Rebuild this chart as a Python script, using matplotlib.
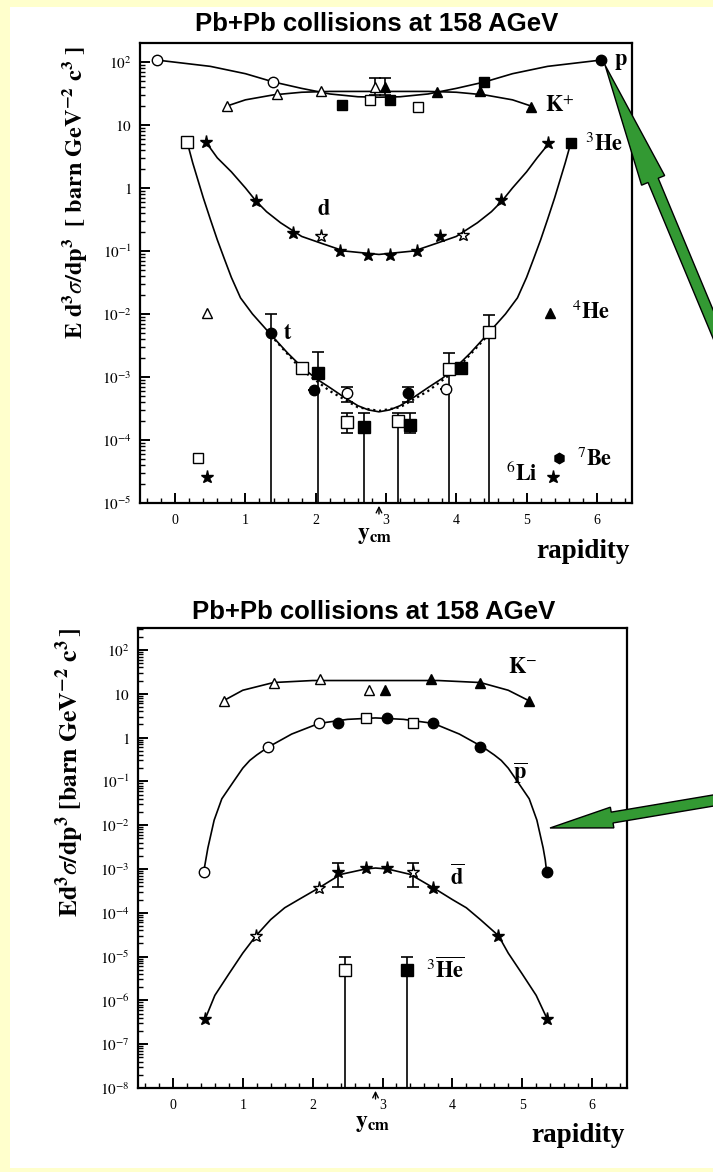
import matplotlib
matplotlib.use('Agg')
import matplotlib.pyplot as plt
from matplotlib.patches import Rectangle, Polygon
from matplotlib.ticker import FixedLocator, FixedFormatter, MultipleLocator, LogLocator, NullFormatter

plt.rcParams['mathtext.fontset'] = 'stix'
plt.rcParams['font.family'] = ['Liberation Serif', 'DejaVu Serif']

W, H = 713, 1172

# ---------------- upper panel: p, K+, d, t, 3He, 4He, 6Li, 7Be ----------------
p_curve_x = [-0.26, 0.5, 1.0, 1.4, 1.8, 2.2, 2.6, 2.9, 3.2, 3.6, 4.0, 4.4, 4.8, 5.3, 6.06]
p_curve_y = [107, 85, 65, 48, 38, 31, 28, 27.5, 28, 31, 38, 48, 65, 85, 107]
p_open_circ_x = [-0.26, 1.39]
p_open_circ_y = [107, 48]
p_open_sq_x = [2.77, 3.46]
p_open_sq_y = [25, 19.5]
p_full_sq_x = [2.37, 3.06, 4.39]
p_full_sq_y = [21, 25, 48]
p_full_circ_x = [6.06]
p_full_circ_y = [107]

kp_curve_x = [0.74, 1.0, 1.4, 1.8, 2.2, 2.9, 3.6, 4.0, 4.4, 4.8, 5.06]
kp_curve_y = [20, 25, 30, 33, 34, 34, 34, 33, 30, 25, 20]
kp_open_x = [0.74, 1.45, 2.08, 2.84]
kp_open_y = [20, 31, 35, 40]
kp_full_x = [2.99, 3.73, 4.34, 5.06]
kp_full_y = [40, 33, 34, 19.5]
kp_err_x = [2.84, 2.99]
kp_err_y = [40, 40]
kp_err_lo = [30, 30]
kp_err_hi = [56, 56]

d_curve_x = [0.44, 0.6, 0.8, 1.0, 1.15, 1.3, 1.5, 1.8, 2.1, 2.4, 2.9, 3.4, 3.7, 4.0, 4.3, 4.5,
             4.65, 4.8, 5.0, 5.15, 5.33]
d_curve_y = [5.3, 3.0, 1.8, 1.0, 0.62, 0.42, 0.28, 0.17, 0.13, 0.1, 0.088, 0.1, 0.13, 0.17, 0.28,
             0.42, 0.62, 1.0, 1.8, 3.0, 5.3]
d_full_x = [0.44, 1.15, 1.68, 2.34, 2.75, 3.06, 3.44, 3.77, 4.63, 5.31]
d_full_y = [5.3, 0.62, 0.19, 0.098, 0.087, 0.087, 0.098, 0.17, 0.64, 5.2]
d_open_x = [2.08, 4.1]
d_open_y = [0.17, 0.18]

he3_curve_x = [0.17, 0.25, 0.4, 0.5, 0.6, 0.7, 0.8, 0.93, 1.1, 1.34, 1.6, 1.8, 2.0, 2.2, 2.4, 2.6,
               2.75, 2.9, 3.05, 3.2, 3.4, 3.6, 3.8, 4.0, 4.2, 4.46, 4.7, 4.87, 5.0, 5.1, 5.2, 5.3,
               5.4, 5.55, 5.63]
he3_curve_y = [5.4, 2.5, 0.7, 0.32, 0.15, 0.075, 0.038, 0.018, 0.01, 5e-3, 2.4e-3, 1.45e-3, 9.5e-4,
               6.8e-4, 4.8e-4, 3.5e-4, 3e-4, 2.8e-4, 3e-4, 3.5e-4, 4.8e-4, 6.8e-4, 9.5e-4, 1.45e-3,
               2.4e-3, 5e-3, 0.01, 0.018, 0.038, 0.075, 0.15, 0.32, 0.7, 2.5, 5.2]
he3_open_x = [0.17]
he3_open_y = [5.4]
he3_full_x = [5.63]
he3_full_y = [5.2]

t_curve_x = [1.36, 1.8, 2.2, 2.6, 2.9, 3.2, 3.6, 4.0, 4.45]
t_curve_y = [4.6e-3, 1.3e-3, 6e-4, 3.3e-4, 2.9e-4, 3.3e-4, 6e-4, 1.3e-3, 4.6e-3]

# mid-rapidity light nuclei with error bars (lower bound 0 = consistent with zero)
mid_open_sq_x = [1.80, 2.45, 3.17, 3.89, 4.46]
mid_open_sq_y = [1.4e-3, 1.9e-4, 2.0e-4, 1.35e-3, 5.1e-3]
mid_open_sq_lo = [1.4e-3, 1.3e-4, 0, 0, 0]
mid_open_sq_hi = [1.4e-3, 2.7e-4, 2.7e-4, 2.4e-3, 9.7e-3]
mid_full_sq_x = [2.03, 2.68, 3.34, 4.06]
mid_full_sq_y = [1.15e-3, 1.6e-4, 1.7e-4, 1.4e-3]
mid_full_sq_lo = [0, 0, 1.3e-4, 1.4e-3]
mid_full_sq_hi = [2.5e-3, 2.7e-4, 2.7e-4, 1.4e-3]
mid_full_circ_x = [1.36, 1.97, 3.31]
mid_full_circ_y = [5e-3, 6.3e-4, 5.6e-4]
mid_full_circ_lo = [0, 6.3e-4, 4.0e-4]
mid_full_circ_hi = [1e-2, 6.3e-4, 6.9e-4]
mid_open_circ_x = [2.45, 3.86]
mid_open_circ_y = [5.6e-4, 6.5e-4]
mid_open_circ_lo = [4.0e-4, 6.5e-4]
mid_open_circ_hi = [7.0e-4, 6.5e-4]

he4_x = [0.46, 5.34]
he4_y = [0.0104, 0.0104]
be7_x = [0.33, 5.46]
be7_y = [5.1e-5, 5.1e-5]
li6_x = [0.46, 5.37]
li6_y = [2.6e-5, 2.6e-5]

# ---------------- lower panel: K-, anti-p, anti-d, anti-3He ----------------
km_curve_x = [0.73, 1.0, 1.44, 2.0, 2.9, 3.8, 4.4, 4.8, 5.09]
km_curve_y = [7, 12, 18, 20, 20, 20, 18, 12, 7]
km_open_x = [0.73, 1.44, 2.11, 2.8]
km_open_y = [7, 18, 22, 12]
km_full_x = [3.04, 3.69, 4.4, 5.09]
km_full_y = [12, 22, 18, 7]

pb_curve_x = [0.44, 0.47, 0.5, 0.59, 0.7, 0.87, 1.0, 1.1, 1.2, 1.36, 1.7, 2.09, 2.5, 2.9,
              3.3, 3.73, 4.1, 4.44, 4.6, 4.7, 4.8, 4.93, 5.1, 5.21, 5.3, 5.33, 5.35]
pb_curve_y = [8.5e-4, 1.6e-3, 3e-3, 0.013, 0.04, 0.1, 0.2, 0.3, 0.4, 0.6, 1.2, 2.1, 2.6, 2.8,
              2.6, 2.1, 1.2, 0.6, 0.4, 0.3, 0.2, 0.1, 0.04, 0.013, 3e-3, 1.6e-3, 8.5e-4]
pb_open_circ_x = [0.44, 1.36, 2.09]
pb_open_circ_y = [8.5e-4, 0.6, 2.1]
pb_open_sq_x = [2.76, 3.43]
pb_open_sq_y = [2.8, 2.1]
pb_full_circ_x = [2.37, 3.07, 3.73, 4.4, 5.35]
pb_full_circ_y = [2.1, 2.8, 2.1, 0.6, 8.5e-4]

db_curve_x = [0.46, 0.6, 0.8, 1.0, 1.19, 1.4, 1.6, 1.8, 2.09, 2.4, 2.76, 2.9, 3.07, 3.4, 3.73,
              4.0, 4.2, 4.4, 4.66, 4.8, 5.0, 5.2, 5.36]
db_curve_y = [3.7e-7, 1.3e-6, 4e-6, 1.2e-5, 3e-5, 7e-5, 1.3e-4, 2e-4, 3.7e-4, 7.5e-4, 1.0e-3,
              1.05e-3, 1.0e-3, 7.5e-4, 3.7e-4, 2e-4, 1.3e-4, 7e-5, 3e-5, 1.2e-5, 4e-6, 1.3e-6, 3.7e-7]
db_open_x = [1.19, 2.09, 3.44]
db_open_y = [3e-5, 3.7e-4, 8.5e-4]
db_full_x = [0.46, 2.37, 2.76, 3.07, 3.73, 4.66, 5.36]
db_full_y = [3.7e-7, 8.5e-4, 1.05e-3, 1.05e-3, 3.7e-4, 3e-5, 3.7e-7]
db_err_x = [2.37, 3.44]
db_err_y = [8.5e-4, 8.5e-4]
db_err_lo = [3.9e-4, 3.9e-4]
db_err_hi = [1.4e-3, 1.4e-3]

he3b_x = [2.47, 3.35]
he3b_y = [4.9e-6, 4.9e-6]
he3b_lo = [0, 0]
he3b_hi = [9.8e-6, 9.8e-6]

top_exps = [-5, -4, -3, -2, -1, 0, 1, 2]
bot_exps = [-8, -7, -6, -5, -4, -3, -2, -1, 0, 1, 2]


def tick_text(e):
    if e == 0:
        return '$1$'
    if e == 1:
        return '$10$'
    return '$10^{%d}$' % e


def px(x, y):
    return x / W, 1 - y / H


fig = plt.figure(figsize=(W / 100, H / 100), dpi=100, facecolor='#FFFFCC')
fig.patches.append(Rectangle((10 / W, 4 / H), 1, (1168 - 7) / H, transform=fig.transFigure,
                             facecolor='white', edgecolor='none', zorder=-5))

ax1 = fig.add_axes([140 / W, 1 - 503 / H, 492 / W, 460 / H])
ax2 = fig.add_axes([138 / W, 1 - 1088 / H, 489 / W, 460 / H])


def style(ax, lo, hi, exps):
    ax.set_yscale('log')
    ax.set_xlim(-0.5, 6.5)
    ax.set_ylim(10.0 ** lo, 10.0 ** hi)
    ax.set_facecolor('white')
    ax.xaxis.set_major_locator(MultipleLocator(1))
    ax.xaxis.set_minor_locator(MultipleLocator(0.2))
    ax.yaxis.set_major_locator(FixedLocator([10.0 ** e for e in exps]))
    ax.yaxis.set_major_formatter(FixedFormatter([tick_text(e) for e in exps]))
    ax.yaxis.set_minor_locator(LogLocator(subs=range(2, 10), numticks=30))
    ax.yaxis.set_minor_formatter(NullFormatter())
    ax.tick_params(which='both', direction='in', top=False, right=False, colors='k')
    ax.tick_params(which='major', length=7, width=1.4, labelsize=11, pad=6)
    ax.tick_params(which='minor', length=3.5, width=1)
    ax.tick_params(axis='x', which='major', labelsize=10, pad=8)
    for s in ax.spines.values():
        s.set_linewidth(1.6)
    # y_cm marker under the axis
    ax.annotate('', xy=(2.9, 0.0), xycoords=('data', 'axes fraction'),
                xytext=(2.9, -0.03), textcoords=('data', 'axes fraction'),
                arrowprops=dict(arrowstyle='->', lw=1.0, color='k'), annotation_clip=False)


def pts(ax, x, y, marker, filled, ms=7.5):
    ax.plot(x, y, linestyle='none', marker=marker, ms=ms, mec='k', mew=1.0,
            mfc='k' if filled else 'white', zorder=4)


def bars(ax, x, y, lo, hi):
    yerr = [[a - b for a, b in zip(y, lo)], [b - a for a, b in zip(y, hi)]]
    ax.errorbar(x, y, yerr=yerr, fmt='none', ecolor='k', elinewidth=1.2, capsize=4, capthick=1.2, zorder=3)


style(ax1, -5, 2.3, top_exps)
style(ax2, -8, 2.5, bot_exps)

# upper panel
line = dict(color='k', lw=1.2, zorder=2)
ax1.plot(p_curve_x, p_curve_y, **line)
ax1.plot(kp_curve_x, kp_curve_y, **line)
ax1.plot(d_curve_x, d_curve_y, **line)
ax1.plot(he3_curve_x, he3_curve_y, **line)
ax1.plot(t_curve_x, t_curve_y, color='k', lw=1.6, ls=':', zorder=2)

bars(ax1, kp_err_x, kp_err_y, kp_err_lo, kp_err_hi)
pts(ax1, p_open_circ_x, p_open_circ_y, 'o', False)
pts(ax1, p_open_sq_x, p_open_sq_y, 's', False)
pts(ax1, p_full_sq_x, p_full_sq_y, 's', True)
pts(ax1, p_full_circ_x, p_full_circ_y, 'o', True)
pts(ax1, kp_open_x, kp_open_y, '^', False)
pts(ax1, kp_full_x, kp_full_y, '^', True)
pts(ax1, d_full_x, d_full_y, '*', True, 9.5)
pts(ax1, d_open_x, d_open_y, '*', False, 9.5)
pts(ax1, he3_open_x, he3_open_y, 's', False, 8.5)
pts(ax1, he3_full_x, he3_full_y, 's', True, 7.5)

bars(ax1, mid_open_sq_x, mid_open_sq_y, mid_open_sq_lo, mid_open_sq_hi)
bars(ax1, mid_full_sq_x, mid_full_sq_y, mid_full_sq_lo, mid_full_sq_hi)
bars(ax1, mid_full_circ_x, mid_full_circ_y, mid_full_circ_lo, mid_full_circ_hi)
bars(ax1, mid_open_circ_x, mid_open_circ_y, mid_open_circ_lo, mid_open_circ_hi)
pts(ax1, mid_open_sq_x, mid_open_sq_y, 's', False, 8.5)
pts(ax1, mid_full_sq_x, mid_full_sq_y, 's', True, 8.5)
pts(ax1, mid_full_circ_x, mid_full_circ_y, 'o', True)
pts(ax1, mid_open_circ_x, mid_open_circ_y, 'o', False)

pts(ax1, he4_x[:1], he4_y[:1], '^', False)
pts(ax1, he4_x[1:], he4_y[1:], '^', True)
pts(ax1, be7_x[:1], be7_y[:1], 's', False, 7)
pts(ax1, be7_x[1:], be7_y[1:], 'h', True, 7.5)
pts(ax1, li6_x, li6_y, '*', True, 9.5)

lab = dict(fontsize=16, ha='center', va='center')
ax1.text(6.34, 100, r'$\mathbf{p}$', **lab)
ax1.text(5.47, 19.5, r'$\mathbf{K}^{+}$', **lab)
ax1.text(6.1, 4.8, r'$^{3}\mathbf{He}$', **lab)
ax1.text(2.11, 0.45, r'$\mathbf{d}$', **lab)
ax1.text(1.6, 4.7e-3, r'$\mathbf{t}$', **lab)
ax1.text(5.91, 0.0105, r'$^{4}\mathbf{He}$', **lab)
ax1.text(5.97, 4.8e-5, r'$^{7}\mathbf{Be}$', **lab)
ax1.text(4.94, 2.8e-5, r'$^{6}\mathbf{Li}$', **lab)

# lower panel
ax2.plot(km_curve_x, km_curve_y, **line)
ax2.plot(pb_curve_x, pb_curve_y, **line)
ax2.plot(db_curve_x, db_curve_y, **line)

pts(ax2, km_open_x, km_open_y, '^', False)
pts(ax2, km_full_x, km_full_y, '^', True)
pts(ax2, pb_open_circ_x, pb_open_circ_y, 'o', False)
pts(ax2, pb_open_sq_x, pb_open_sq_y, 's', False)
pts(ax2, pb_full_circ_x, pb_full_circ_y, 'o', True)
bars(ax2, db_err_x, db_err_y, db_err_lo, db_err_hi)
pts(ax2, db_open_x, db_open_y, '*', False, 9.5)
pts(ax2, db_full_x, db_full_y, '*', True, 9.5)
bars(ax2, he3b_x, he3b_y, he3b_lo, he3b_hi)
pts(ax2, he3b_x[:1], he3b_y[:1], 's', False, 8.5)
pts(ax2, he3b_x[1:], he3b_y[1:], 's', True, 8.5)

ax2.text(5.0, 39, r'$\mathbf{K}^{-}$', **lab)
ax2.text(4.97, 0.155, r'$\overline{\mathbf{p}}$', **lab)
ax2.text(4.07, 6.3e-4, r'$\overline{\mathbf{d}}$', **lab)
ax2.text(3.9, 4.9e-6, r'$^{3}\overline{\mathbf{He}}$', **lab)

# titles, axis labels
title_kw = dict(family=['Liberation Sans', 'DejaVu Sans'], fontweight='bold', fontsize=18.5,
                ha='center', va='center')
fig.text(*px(377, 24), 'Pb+Pb collisions at 158 AGeV', **title_kw)
fig.text(*px(374, 612), 'Pb+Pb collisions at 158 AGeV', **title_kw)

fig.text(*px(75, 192), r'$\mathbf{E\ d^{3}}\sigma\mathbf{/dp^{3}\ \ [\ barn\ GeV^{-2}\ c^{3}\ ]}$',
         rotation=90, fontsize=17.5, ha='center', va='center')
fig.text(*px(70, 772), r'$\mathbf{Ed^{3}}\sigma\mathbf{/dp^{3}\ [barn\ GeV^{-2}\ c^{3}\,]}$',
         rotation=90, fontsize=18.5, ha='center', va='center')

fig.text(*px(583, 552), 'rapidity', fontsize=19.5, fontweight='bold', ha='center', va='center')
fig.text(*px(578, 1135), 'rapidity', fontsize=19.5, fontweight='bold', ha='center', va='center')
fig.text(*px(374, 536), r'$\mathbf{y}_{\mathbf{cm}}$', fontsize=17, ha='center', va='center')
fig.text(*px(372, 1124), r'$\mathbf{y}_{\mathbf{cm}}$', fontsize=17, ha='center', va='center')


# green pointer arrows
def arrow(tip, ux, uy, head_len, head_half, shaft_half, tail):
    nx, ny = uy, -ux
    bx, by = tip[0] + head_len * ux, tip[1] + head_len * uy
    pts_px = [tip,
              (bx + head_half * nx, by + head_half * ny),
              (bx + shaft_half * nx, by + shaft_half * ny),
              (bx + shaft_half * nx + tail * ux, by + shaft_half * ny + tail * uy),
              (bx - shaft_half * nx + tail * ux, by - shaft_half * ny + tail * uy),
              (bx - shaft_half * nx, by - shaft_half * ny),
              (bx - head_half * nx, by - head_half * ny)]
    fig.patches.append(Polygon([px(a, b) for a, b in pts_px], closed=True, transform=fig.transFigure,
                               facecolor='#339933', edgecolor='k', lw=1.0, zorder=10))


arrow((605, 65), 0.385, 0.923, 125, 12.5, 5.5, 300)
arrow((550, 828), 0.986, -0.166, 63, 10.5, 5.5, 250)

fig.savefig('out.png', dpi=100, facecolor=fig.get_facecolor())
